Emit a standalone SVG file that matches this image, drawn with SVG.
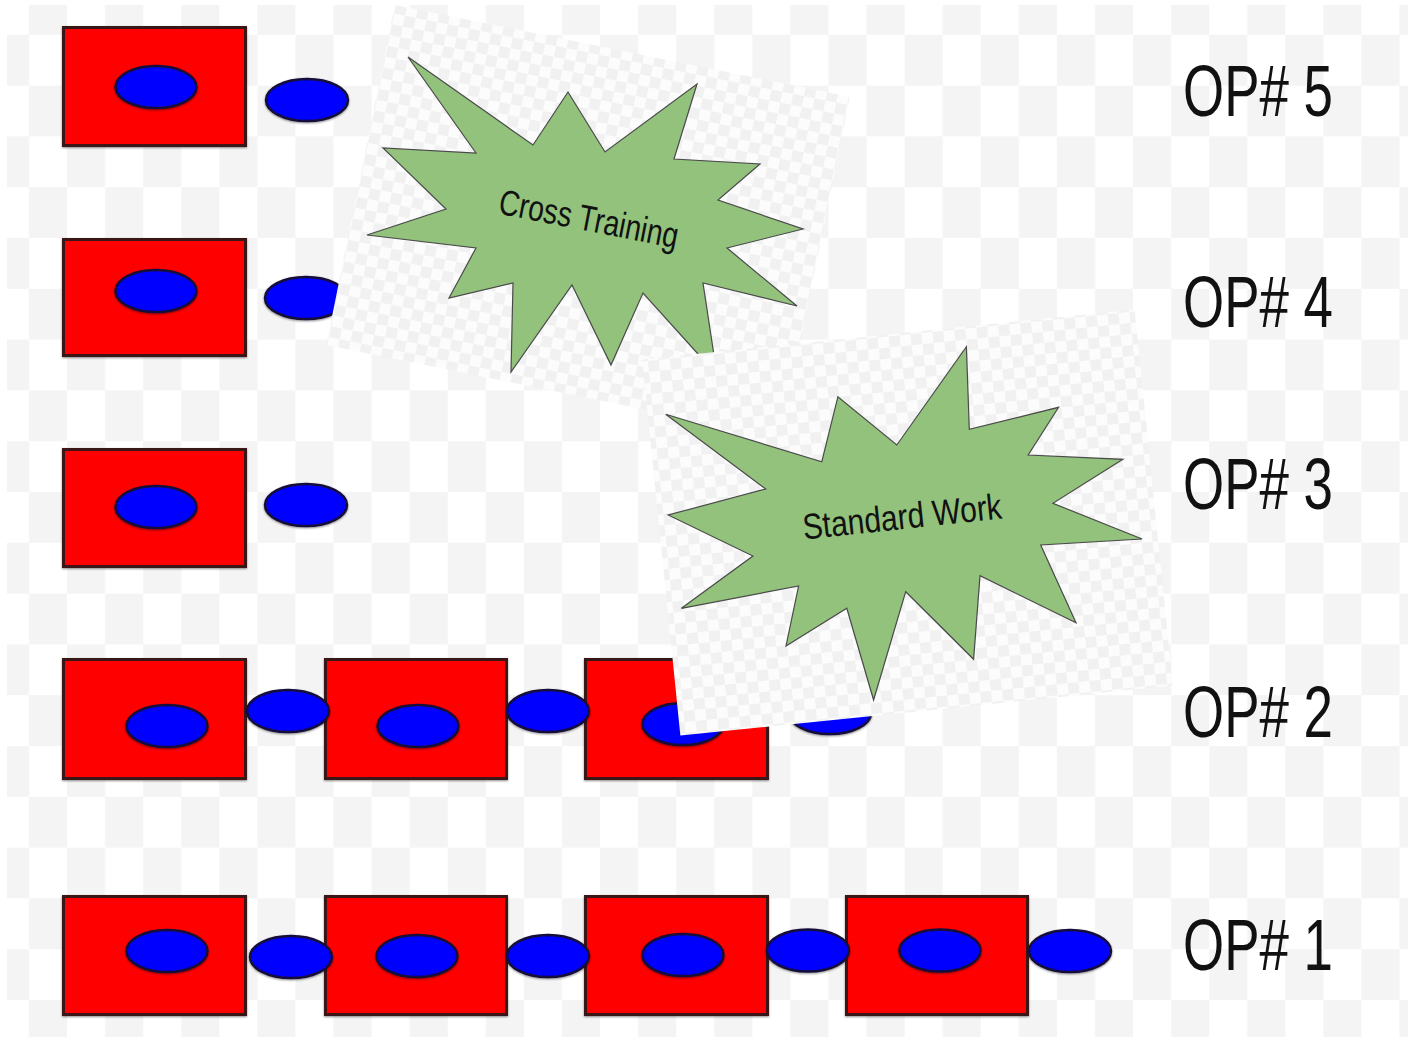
<svg xmlns="http://www.w3.org/2000/svg" width="1408" height="1038" viewBox="0 0 1408 1038">
  <defs>
    <!-- large transparency-style checkerboard behind the whole sheet -->
    <pattern id="bgCheck" patternUnits="userSpaceOnUse" x="-9.07" y="-16" width="76.14" height="101.6">
      <rect width="76.14" height="101.6" fill="#ffffff"/>
      <rect x="38.07" y="0" width="38.07" height="50.8" fill="#f4f4f4"/>
      <rect x="0" y="50.8" width="38.07" height="50.8" fill="#f4f4f4"/>
    </pattern>
    <!-- fine checkerboard of the pasted callout panels -->
    <pattern id="panelCheck" patternUnits="userSpaceOnUse" width="22" height="22">
      <rect width="22" height="22" fill="#fcfcfc"/>
      <rect x="11" y="0" width="11" height="11" fill="#f1f1f1"/>
      <rect x="0" y="11" width="11" height="11" fill="#f1f1f1"/>
    </pattern>
    <filter id="soft" x="-15%" y="-15%" width="130%" height="140%">
      <feDropShadow dx="0" dy="1" stdDeviation="1" flood-color="#000000" flood-opacity="0.45"/>
    </filter>
  </defs>
  <style>
    .station { fill: #ff0000; stroke: #3a1818; stroke-width: 3; filter: url(#soft); }
    .part { fill: #0000ff; stroke: #14103a; stroke-width: 2.5; filter: url(#soft); }
    .panel { fill: url(#panelCheck); }
    .burst { fill: #92c27c; stroke: #4a4a4a; stroke-width: 1.2; stroke-linejoin: miter; }
    .burst-label { font-family: "Liberation Sans", Arial, sans-serif; font-size: 36px; fill: #111111; }
    .op-label { font-family: "Liberation Sans", Arial, sans-serif; font-size: 72px; fill: #111111; }
  </style>

  <!-- background -->
  <rect x="0" y="0" width="1408" height="1038" fill="#ffffff"/>
  <rect x="7" y="5" width="1401" height="1032" fill="url(#bgCheck)"/>

  <!-- work stations with the part each one holds -->
  <g id="op5-stations">
    <rect class="station" x="63.5" y="27.5" width="182" height="118"/>
    <ellipse class="part" cx="156" cy="87" rx="40.5" ry="21"/>
  </g>
  <g id="op4-stations">
    <rect class="station" x="63.5" y="239.5" width="182" height="116"/>
    <ellipse class="part" cx="156" cy="291" rx="40.5" ry="21"/>
  </g>
  <g id="op3-stations">
    <rect class="station" x="63.5" y="449.5" width="182" height="117"/>
    <ellipse class="part" cx="156" cy="507" rx="40.5" ry="21"/>
  </g>
  <g id="op2-stations">
    <rect class="station" x="63.5" y="659.5" width="182" height="119"/>
    <ellipse class="part" cx="167" cy="726" rx="40.5" ry="21"/>
    <rect class="station" x="325.5" y="659.5" width="181" height="119"/>
    <ellipse class="part" cx="418" cy="726" rx="40.5" ry="21"/>
    <rect class="station" x="585.5" y="659.5" width="182" height="119"/>
    <ellipse class="part" cx="683" cy="724" rx="40.5" ry="21"/>
  </g>
  <g id="op1-stations">
    <rect class="station" x="63.5" y="896.5" width="182" height="118"/>
    <ellipse class="part" cx="167" cy="951" rx="40.5" ry="21"/>
    <rect class="station" x="325.5" y="896.5" width="181" height="118"/>
    <ellipse class="part" cx="417" cy="956" rx="40.5" ry="21"/>
    <rect class="station" x="585.5" y="896.5" width="182" height="118"/>
    <ellipse class="part" cx="683" cy="955" rx="40.5" ry="21"/>
    <rect class="station" x="846.5" y="896.5" width="181" height="118"/>
    <ellipse class="part" cx="940" cy="950.5" rx="40.5" ry="21"/>
  </g>

  <!-- parts waiting between / after stations -->
  <g id="connectors">
    <ellipse class="part" cx="307" cy="100" rx="41" ry="21"/>
    <ellipse class="part" cx="306" cy="298" rx="41" ry="21"/>
    <ellipse class="part" cx="306" cy="505" rx="41" ry="21"/>
    <ellipse class="part" cx="288" cy="711" rx="41" ry="21"/>
    <ellipse class="part" cx="548" cy="711" rx="41" ry="21"/>
    <ellipse class="part" cx="830" cy="713" rx="41" ry="21"/>
    <ellipse class="part" cx="291" cy="957" rx="41" ry="21"/>
    <ellipse class="part" cx="548" cy="956" rx="41" ry="21"/>
    <ellipse class="part" cx="808" cy="950.5" rx="41" ry="21"/>
    <ellipse class="part" cx="1070" cy="951" rx="41" ry="21"/>
  </g>

  <!-- operator labels -->
  <g id="labels">
    <text class="op-label" x="1183" y="115.5" textLength="150" lengthAdjust="spacingAndGlyphs">OP# 5</text>
    <text class="op-label" x="1183" y="327" textLength="150" lengthAdjust="spacingAndGlyphs">OP# 4</text>
    <text class="op-label" x="1183" y="508.5" textLength="150" lengthAdjust="spacingAndGlyphs">OP# 3</text>
    <text class="op-label" x="1183" y="737" textLength="150" lengthAdjust="spacingAndGlyphs">OP# 2</text>
    <text class="op-label" x="1183" y="970" textLength="150" lengthAdjust="spacingAndGlyphs">OP# 1</text>
  </g>

  <!-- "Cross Training" callout -->
  <g id="cross-training">
    <rect class="panel" transform="translate(588 220.9) rotate(11.4)" x="-232" y="-173.5" width="464" height="347"/>
    <polygon class="burst" points="408,57 533,145 568,92 605,152 697,84 674,159 760,164 718,200 803,229 727,248 797,306 703,283 717,375 643,293 611,365 572,285 511,372 513,283 449,298 476,248 367,235 446,209 383,148 476,153"/>
    <text class="burst-label" transform="translate(589 218) rotate(11)" x="0" y="13" text-anchor="middle" textLength="182" lengthAdjust="spacingAndGlyphs">Cross Training</text>
  </g>

  <!-- "Standard Work" callout -->
  <g id="standard-work">
    <rect class="panel" transform="translate(907.5 522.5) rotate(-5.8)" x="-247.5" y="-189" width="495" height="378"/>
    <polygon class="burst" points="966.4,346.7 969.3,429.3 1058.6,407.3 1028.2,455 1122.9,459.3 1052.9,503.3 1142.1,539 1040.7,545 1076,622.7 980,575.7 973.6,659.3 905.7,591.7 873.6,700 846.8,608.3 786,646 798.6,586 681.4,608.3 752.9,556 668.2,515 765.7,489 665.7,414.3 821.8,461.7 837.9,396.7 896.8,445"/>
    <text class="burst-label" transform="translate(902 516) rotate(-6)" x="0" y="13" text-anchor="middle" textLength="200" lengthAdjust="spacingAndGlyphs">Standard Work</text>
  </g>
</svg>
